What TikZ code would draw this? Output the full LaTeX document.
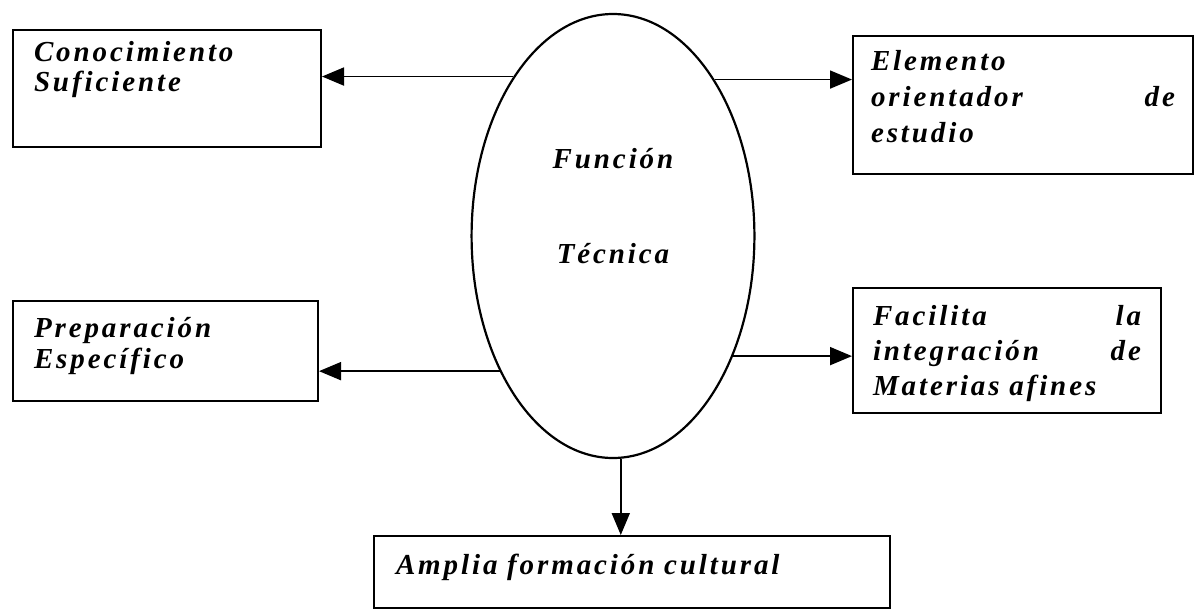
\documentclass[tikz,border=0pt]{standalone}
\usepackage{fontspec}
\setmainfont{Liberation Serif}[LetterSpace=10]
\usetikzlibrary{shapes.geometric,arrows.meta,positioning}

\newcommand{\blockfont}[1]{\fontsize{14.5pt}{#1pt}\selectfont\bfseries\itshape\spaceskip=7pt plus 2pt}

\begin{document}
\begin{tikzpicture}[x=0.5pt, y=-0.5pt,
    block/.style={rectangle, draw, line width=1pt, anchor=north west, align=left, inner ysep=0pt},
    arrow/.style={-{Triangle[length=11pt,width=9pt]}, line width=0.9pt}]

    \useasboundingbox (0,0) rectangle (1204,611);

    % Central ellipse
    \node[ellipse, draw, line width=1.1pt, minimum width=123pt, minimum height=222pt, inner sep=0pt,
          text width=100pt, align=center, text height=0pt, text depth=68pt,
          font=\blockfont{47.5}] (funcion) at (613,236) {Función\\Técnica};

    % Left side
    \node[block, inner xsep=10.5pt, text width=133pt, text height=15.5pt, text depth=43pt,
          font=\blockfont{15}] (conocimiento) at (12,29) {Conocimiento\\Suficiente};
    \node[block, inner xsep=10.5pt, text width=131.5pt, text height=18pt, text depth=32pt,
          font=\blockfont{15.5}] (preparacion) at (12,300) {Preparación\\Específico};

    % Right side
    \node[block, inner xsep=9pt, text width=152pt, text height=17pt, text depth=52pt,
          font=\blockfont{18}] (elemento) at (852,35) {Elemento\\orientador\hfill de\\estudio};
    \node[block, inner xsep=10pt, text width=134pt, text height=18.5pt, text depth=44pt,
          font=\blockfont{17.5}] (facilita) at (852,287) {Facilita\hfill la\\integración\hfill de\\Materias afines};

    % Bottom
    \node[block, inner xsep=11pt, text width=236pt, text height=19pt, text depth=17pt,
          font=\blockfont{15}] (amplia) at (373,535) {Amplia formación cultural};

    % Arrows
    \draw[arrow] (funcion.122) -- (funcion.122 -| conocimiento.east);
    \draw[arrow] (funcion.57) -- (funcion.57 -| elemento.west);
    \draw[arrow] (funcion.230) -- (funcion.230 -| preparacion.east);
    \draw[arrow] (funcion.315) -- (funcion.315 -| facilita.west);
    \draw[arrow] (funcion.272) -- (funcion.272 |- amplia.north);

\end{tikzpicture}
\end{document}
